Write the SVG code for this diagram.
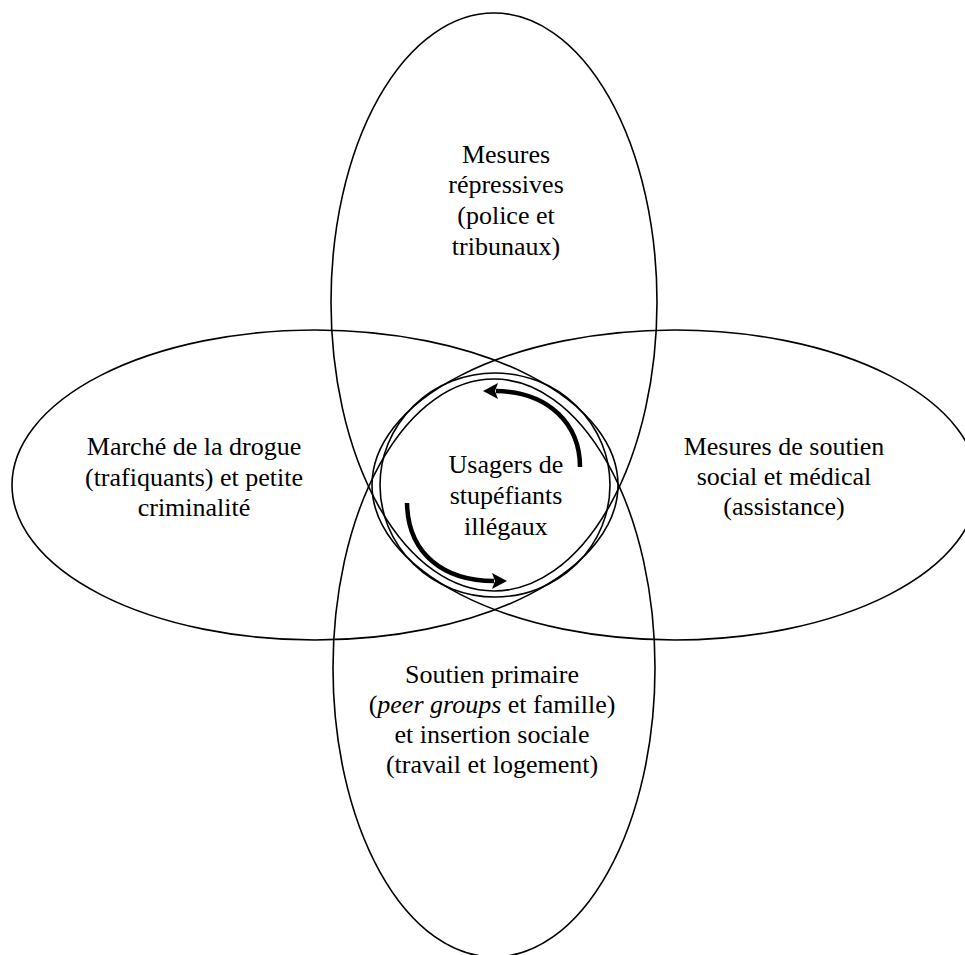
<svg xmlns="http://www.w3.org/2000/svg" width="965" height="955" viewBox="0 0 965 955">
<style>
.shape{fill:none;stroke:#000;stroke-width:1.6}
.lbl{font-family:'Liberation Serif','Times New Roman',serif;font-size:26px;fill:#000;text-anchor:middle}
.arc{fill:none;stroke:#000;stroke-width:4.5}
.head{fill:#000}
</style>
<rect width="965" height="955" fill="#fff"/>
<g id="top">
<ellipse class="shape" cx="494" cy="302" rx="163" ry="289"/>
<text class="lbl" x="506" y="163">Mesures</text>
<text class="lbl" x="506" y="193">répressives</text>
<text class="lbl" x="506" y="224">(police et</text>
<text class="lbl" x="506" y="255">tribunaux)</text>
</g>
<g id="bottom">
<ellipse class="shape" cx="494" cy="668" rx="161" ry="289"/>
<text class="lbl" x="492" y="683">Soutien primaire</text>
<text class="lbl" x="492" y="713">(<tspan font-style="italic">peer groups</tspan> et famille)</text>
<text class="lbl" x="492" y="743">et insertion sociale</text>
<text class="lbl" x="492" y="773">(travail et logement)</text>
</g>
<g id="left">
<ellipse class="shape" cx="315" cy="485" rx="303" ry="155"/>
<text class="lbl" x="194" y="455">Marché de la drogue</text>
<text class="lbl" x="194" y="486">(trafiquants) et petite</text>
<text class="lbl" x="194" y="516">criminalité</text>
</g>
<g id="right">
<ellipse class="shape" cx="675" cy="485" rx="303" ry="155"/>
<text class="lbl" x="784" y="455">Mesures de soutien</text>
<text class="lbl" x="784" y="485">social et médical</text>
<text class="lbl" x="784" y="515">(assistance)</text>
</g>
<g id="center">
<ellipse class="shape" cx="495" cy="485" rx="115" ry="112"/>
<text class="lbl" x="506" y="473">Usagers de</text>
<text class="lbl" x="506" y="504">stupéfiants</text>
<text class="lbl" x="506" y="535">illégaux</text>
</g>
<g id="connectors">
<path class="arc" d="M580,467 C580,425 550,392 496,391"/>
<polygon class="head" points="483,391 498,383 495,391 498,399"/>
<path class="arc" d="M407,503 C408,555 445,581 494,581"/>
<polygon class="head" points="507,581 492,573 495,581 492,589"/>
</g>
</svg>
